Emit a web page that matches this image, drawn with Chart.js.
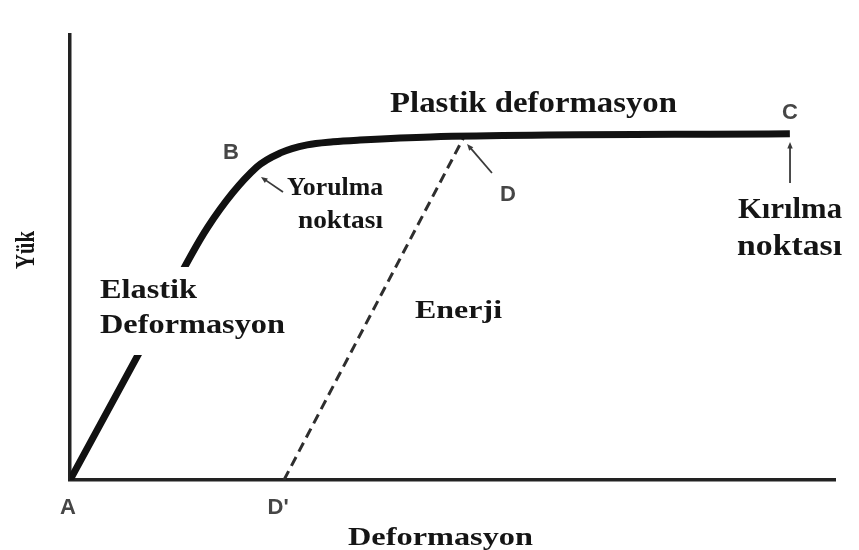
<!DOCTYPE html>
<html>
<head>
<meta charset="utf-8">
<title>Yük - Deformasyon</title>
<script src="https://cdn.jsdelivr.net/npm/chart.js@4.4.1/dist/chart.umd.min.js"></script>
<style>
    html, body { margin: 0; padding: 0; background: #ffffff; }
    #wrap { width: 859px; height: 550px; }
</style>
</head>
<body>
<div id="wrap"><canvas id="loadChart" width="859" height="550"></canvas></div>
<script>
(function(window) {
    'use strict';

    // Yük - deformasyon eğrisi (A -> B -> C), göreli birimler
    var curveX = [0, 10, 18.0, 24.4, 27.5, 31.0, 34.4, 37.9, 47.1, 94.1];
    var curveY = [0, 31.6, 56.8, 70.3, 73.5, 75.3, 76.0, 76.4, 77.1, 77.8];

    // Boşaltma doğrusu (D' -> D), kesikli
    var unloadX = [27.97, 51.5];
    var unloadY = [0, 77.1];

    var axisX = { min: 0, max: 100 };
    var axisY = { min: 0, max: 100 };

    function toPoints(xs, ys) {
        return xs.map(function(x, i) { return { x: x, y: ys[i] }; });
    }

    // Nokta harfleri (veri biriminde merkez)
    var pointLetters = [
        { text: 'A',  x: -0.26, y: -6.3 },
        { text: 'B',  x: 21.05, y: 73.5 },
        { text: 'C',  x: 94.1,  y: 82.5 },
        { text: 'D',  x: 57.25, y: 64.0 },
        { text: "D'", x: 27.2,  y: -6.3 }
    ];

    // Açıklama yazıları: sol kenar + taban çizgisi (veri birimi), genişlik px
    var notes = [
        { text: 'Plastik deformasyon', x: 41.83, y: 82.70, w: 287, size: 29 },
        { text: 'Elastik',             x: 3.92,  y: 40.90, w: 97,  size: 27 },
        { text: 'Deformasyon',         x: 3.92,  y: 33.03, w: 185, size: 27 },
        { text: 'Yorulma',             x: 28.37, y: 64.04, w: 96,  size: 25 },
        { text: 'noktası',             x: 29.80, y: 56.63, w: 85,  size: 25 },
        { text: 'Enerji',              x: 45.10, y: 36.40, w: 87,  size: 25 },
        { text: 'Kırılma',             x: 87.32, y: 58.88, w: 104, size: 29 },
        { text: 'noktası',             x: 87.19, y: 50.56, w: 105, size: 29 },
        { text: 'Deformasyon',         x: 36.34, y: -14.61, w: 185, size: 26 }
    ];

    // Elastik bölge yazısının arkasındaki beyaz kutu
    var whiteBoxes = [
        { x1: 3.27, y1: 47.87, x2: 29.28, y2: 28.09 }
    ];

    // Oklar: kuyruk -> uç
    var arrows = [
        { fx: 27.84, fy: 64.72, tx: 24.97, ty: 68.09 },
        { fx: 55.16, fy: 68.99, tx: 51.9,  ty: 75.5 },
        { fx: 94.12, fy: 66.74, tx: 94.12, ty: 75.96 }
    ];

    var yTitle = { text: 'Yük', x: -5.62, y: 51.69, w: 38, size: 27 };

    function fitText(ctx, text, px, py, targetW, size, weight) {
        ctx.font = (weight || 'bold') + ' ' + size + 'px "Liberation Serif", "DejaVu Serif", serif';
        var w = ctx.measureText(text).width;
        ctx.save();
        ctx.translate(px, py);
        ctx.scale(targetW / w, 1);
        ctx.fillText(text, 0, 0);
        ctx.restore();
    }

    function drawArrow(ctx, x1, y1, x2, y2) {
        var ang = Math.atan2(y2 - y1, x2 - x1);
        var head = 7;
        ctx.save();
        ctx.strokeStyle = '#3a3a3a';
        ctx.fillStyle = '#3a3a3a';
        ctx.lineWidth = 1.8;
        ctx.beginPath();
        ctx.moveTo(x1, y1);
        ctx.lineTo(x2 - Math.cos(ang) * head * 0.6, y2 - Math.sin(ang) * head * 0.6);
        ctx.stroke();
        ctx.beginPath();
        ctx.moveTo(x2, y2);
        ctx.lineTo(x2 - head * Math.cos(ang - 0.4), y2 - head * Math.sin(ang - 0.4));
        ctx.lineTo(x2 - head * Math.cos(ang + 0.4), y2 - head * Math.sin(ang + 0.4));
        ctx.closePath();
        ctx.fill();
        ctx.restore();
    }

    var notesPlugin = {
        id: 'notesPlugin',
        afterDatasetsDraw: function(chart) {
            var ctx = chart.ctx;
            var xs = chart.scales.x;
            var ys = chart.scales.y;
            function px(v) { return xs.getPixelForValue(v); }
            function py(v) { return ys.getPixelForValue(v); }

            ctx.save();

            ctx.fillStyle = '#ffffff';
            whiteBoxes.forEach(function(b) {
                ctx.fillRect(px(b.x1), py(b.y1), px(b.x2) - px(b.x1), py(b.y2) - py(b.y1));
            });

            arrows.forEach(function(a) {
                drawArrow(ctx, px(a.fx), py(a.fy), px(a.tx), py(a.ty));
            });

            ctx.fillStyle = '#151515';
            ctx.textAlign = 'left';
            ctx.textBaseline = 'alphabetic';
            notes.forEach(function(n) {
                fitText(ctx, n.text, px(n.x), py(n.y), n.w, n.size);
            });

            // Dikey eksen başlığı
            ctx.save();
            ctx.translate(px(yTitle.x), py(yTitle.y));
            ctx.rotate(-Math.PI / 2);
            ctx.textAlign = 'left';
            ctx.textBaseline = 'middle';
            ctx.font = 'bold ' + yTitle.size + 'px "Liberation Serif", serif';
            var tw = ctx.measureText(yTitle.text).width;
            ctx.scale(yTitle.w / tw, 1);
            ctx.fillText(yTitle.text, -tw / 2, 0);
            ctx.restore();

            ctx.fillStyle = '#464646';
            ctx.textAlign = 'center';
            ctx.textBaseline = 'middle';
            ctx.font = 'bold 22px "Liberation Sans", Arial, sans-serif';
            pointLetters.forEach(function(p) {
                ctx.fillText(p.text, px(p.x), py(p.y));
            });

            ctx.restore();
        }
    };

    var axisOpts = function(range) {
        return {
            type: 'linear',
            min: range.min,
            max: range.max,
            ticks: { display: false },
            grid: { display: false, drawTicks: false },
            border: { display: true, color: '#222222', width: 3.5 }
        };
    };

    var ctx = document.getElementById('loadChart').getContext('2d');
    window.loadChart = new Chart(ctx, {
        type: 'scatter',
        data: {
            datasets: [{
                label: 'Yük',
                data: toPoints(curveX, curveY),
                showLine: true,
                borderColor: '#111111',
                borderWidth: 7,
                pointRadius: 0,
                cubicInterpolationMode: 'monotone',
                borderCapStyle: 'butt',
                borderJoinStyle: 'round'
            }, {
                label: 'Enerji',
                data: toPoints(unloadX, unloadY),
                showLine: true,
                borderColor: '#2e2e2e',
                borderWidth: 3,
                borderDash: [10, 6],
                pointRadius: 0
            }]
        },
        options: {
            responsive: false,
            animation: false,
            layout: { padding: { left: 70, right: 24, top: 35, bottom: 70 } },
            scales: {
                x: axisOpts(axisX),
                y: axisOpts(axisY)
            },
            plugins: {
                legend: { display: false },
                tooltip: { enabled: false }
            }
        },
        plugins: [notesPlugin]
    });
})(window);
</script>
</body>
</html>
